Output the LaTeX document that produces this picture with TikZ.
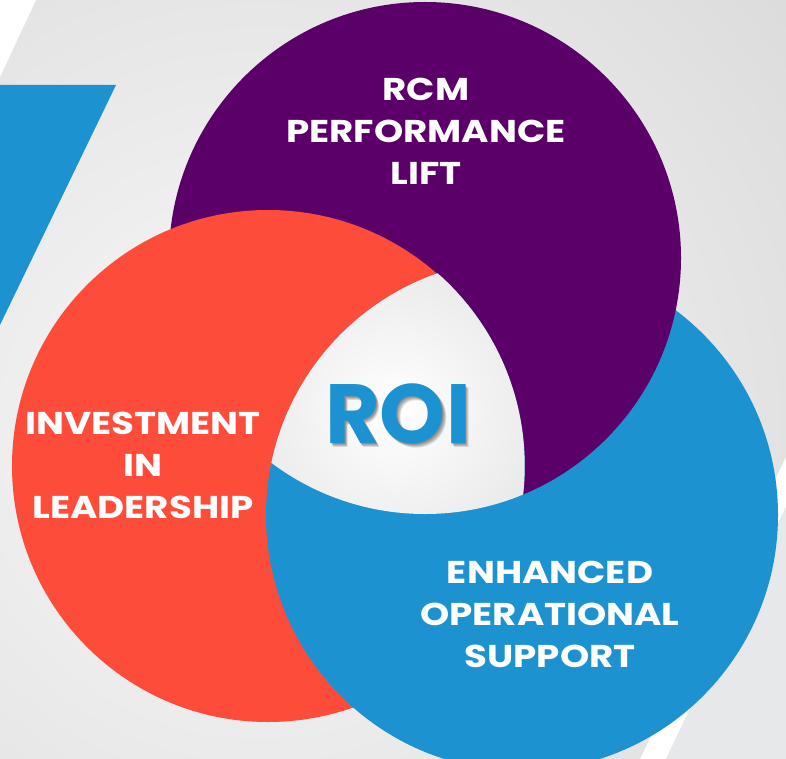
\documentclass[tikz,border=0pt]{standalone}
\usepackage{fontspec}
\setmainfont{Poppins}
\newfontfamily\labelfont{Poppins}[FakeStretch=1.18]
\usetikzlibrary{calc}
\definecolor{roipurple}{HTML}{5B0068}
\definecolor{roired}{HTML}{FE4C3B}
\definecolor{roiblue}{HTML}{1C93D0}
\definecolor{backgray}{HTML}{E7E8EA}
\tikzset{
  circlelabel/.style={text=white, align=center, inner sep=0pt, font=\labelfont\bfseries\fontsize{31.5}{42}\selectfont},
  roitext/.style={inner sep=0pt, font=\bfseries\fontsize{84}{84}\selectfont}
}

\begin{document}
\begin{tikzpicture}[x=1pt,y=-1pt]

\useasboundingbox (0,0) rectangle (786,759);

% background
\begin{scope}
\clip (0,0) rectangle (786,759);
\shade[inner color=gray!5, outer color=gray!40] (260,430) circle (1050);
\fill[white] (0,0) -- (36,0) -- (0,77) -- cycle;
\fill[roiblue] (0,85) -- (116,85) -- (0,325) -- cycle;
\fill[white] (640,759) -- (666,759) -- (786,507) -- (786,457) -- cycle;
\fill[backgray] (666,759) -- (786,759) -- (786,507) -- cycle;
\end{scope}

\coordinate (P) at (425,258);
\coordinate (R) at (268,466);
\coordinate (B) at (522,515);

% circles
\begin{scope}
\clip (0,0) rectangle (786,759);
\fill[roiblue] (B) circle (256);
\fill[roipurple] (P) circle (256);
\fill[roired] (R) circle (256);
\begin{scope}
\clip (R) circle (256.7);
\fill[roiblue] (B) circle (256);
\clip (P) circle (256);
\clip (B) circle (256);
\shade[inner color=white, outer color=gray!30] (395,410) circle (270);
\end{scope}
\end{scope}

% labels
\node[circlelabel] (lift) at (426,131) {RCM\\PERFORMANCE\\LIFT};
\node[circlelabel] (leader) at (143,465) {INVESTMENT\\IN\\LEADERSHIP};
\node[circlelabel] (support) at (550,614) {ENHANCED\\OPERATIONAL\\SUPPORT};

\foreach \d in {1,...,4}
  \node[roitext, text=black, opacity=0.13] at ($(398,414)+(0.9*\d,0.9*\d)$) {ROI};
\node[roitext, text=roiblue] (roi) at (398,414) {ROI};

\end{tikzpicture}
\end{document}
